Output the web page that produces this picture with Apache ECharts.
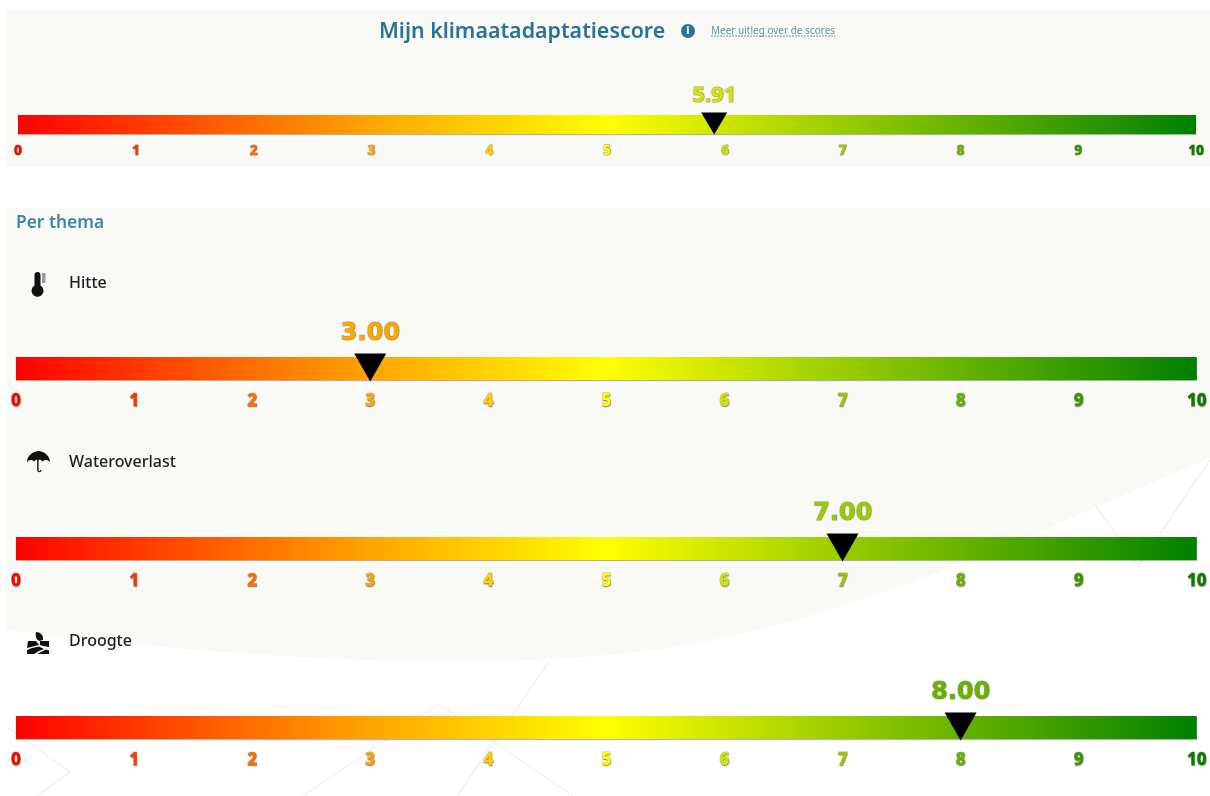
<!DOCTYPE html>
<html>
<head>
<meta charset="utf-8">
<title>Mijn klimaatadaptatiescore</title>
<script src="https://cdn.jsdelivr.net/npm/echarts@6/dist/echarts.min.js"></script>
<style>
  html, body { margin: 0; padding: 0; background: #ffffff; }
  #chart { width: 1210px; height: 796px; }
</style>
</head>
<body>
<div id="chart"></div>
<script>
// Scores on the 0-10 climate adaptation scale
const rowNames = ['Mijn klimaatadaptatiescore', 'Hitte', 'Wateroverlast', 'Droogte'];
const rowScores = [5.91, 3.0, 7.0, 8.0];
const tickValues = [0, 1, 2, 3, 4, 5, 6, 7, 8, 9, 10];

// Colour ramp shared by the bars, tick labels and score labels
const rampStops = [
  [0, [255, 0, 0]],
  [0.3, [255, 165, 0]],
  [0.5, [255, 255, 0]],
  [1, [0, 128, 0]]
];
function rampColor(score) {
  const t = score / 10;
  for (let i = 1; i < rampStops.length; i++) {
    if (t <= rampStops[i][0]) {
      const [t0, c0] = rampStops[i - 1];
      const [t1, c1] = rampStops[i];
      const f = (t - t0) / (t1 - t0);
      return 'rgb(' + c0.map((c, k) => Math.round(c + (c1[k] - c) * f)).join(',') + ')';
    }
  }
  return 'rgb(0,128,0)';
}

// Vertical placement of each row and its type sizes
const rowLayout = [
  { left: 18, right: 14, top: 115, height: 19, margin: 10, tick: 13.5, score: 22, scoreFont: 'Noto Sans', tri: [26, 22], triShift: -1, labelGap: 6 },
  { left: 16, right: 13, top: 357, height: 23, margin: 13, tick: 17, score: 24, scoreFont: 'DejaVu Sans', tri: [32, 28], triShift: -1, labelGap: 8 },
  { left: 16, right: 13, top: 537, height: 23, margin: 13, tick: 17, score: 24, scoreFont: 'DejaVu Sans', tri: [32, 28], triShift: -1, labelGap: 8 },
  { left: 16, right: 13, top: 716, height: 23, margin: 13, tick: 17, score: 24, scoreFont: 'DejaVu Sans', tri: [32, 28], triShift: -1, labelGap: 8 }
];

const grids = [], xAxes = [], yAxes = [], series = [];
rowNames.forEach((name, i) => {
  const row = rowLayout[i];
  grids.push({ left: row.left, right: row.right, top: row.top, height: row.height });
  xAxes.push({
    type: 'value', gridIndex: i, min: 0, max: 10, interval: 1,
    axisLine: { show: false }, axisTick: { show: false }, splitLine: { show: false },
    axisLabel: {
      margin: row.margin,
      fontFamily: 'Noto Sans', fontWeight: 800, fontSize: row.tick,
      color: v => rampColor(v),
      textBorderColor: 'rgba(90,60,0,0.4)', textBorderWidth: 0.8,
      textShadowColor: 'rgba(60,40,0,0.4)', textShadowBlur: 1, textShadowOffsetX: 0.5, textShadowOffsetY: 0.5,
      formatter: v => tickValues.includes(v) ? String(v) : ''
    }
  });
  yAxes.push({ type: 'category', gridIndex: i, data: [name], show: false });
  series.push({
    type: 'bar', name: name + ' schaal', xAxisIndex: i, yAxisIndex: i, barWidth: '100%',
    silent: true, data: [tickValues[tickValues.length - 1]],
    itemStyle: {
      shadowColor: 'rgba(70,70,70,0.4)', shadowBlur: 1, shadowOffsetY: 1,
      color: new echarts.graphic.LinearGradient(0, 0, 1, 0,
        rampStops.map(([offset, c]) => ({ offset, color: 'rgb(' + c.join(',') + ')' })))
    }
  });
  series.push({
    type: 'scatter', name: name, xAxisIndex: i, yAxisIndex: i, z: 5,
    symbol: 'path://M0 0 L2 0 L1 2 Z', symbolSize: row.tri, symbolOffset: [0, row.triShift],
    itemStyle: { color: '#000000', opacity: 1 },
    data: [[rowScores[i], name]],
    label: {
      show: true, position: 'top', distance: row.labelGap,
      formatter: p => p.value[0].toFixed(2),
      fontFamily: row.scoreFont, fontWeight: 'bold', fontSize: row.score,
      color: rampColor(rowScores[i]),
      textBorderColor: 'rgba(100,90,20,0.4)', textBorderWidth: 1,
      textShadowColor: 'rgba(60,50,0,0.4)', textShadowBlur: 1, textShadowOffsetX: 0.5, textShadowOffsetY: 0.5
    }
  });
});

// Page furniture: panels, faint background lines, headings and theme icons
const panelColor = '#f9faf5';
const lineColor = '#f0f0f0';
const headColor = '#2b7396';
const textFont = '"Noto Sans"';

function registerPath(name, pathData) {
  echarts.graphic.registerShape(name, echarts.graphic.extendPath(pathData, {}));
}
registerPath('themePanel', 'M7 208 H1210 V458 C1060 520 880 612 680 646 C520 672 280 664 7 630 Z');
registerPath('iconHitte', 'M3.5 3 a3 3 0 0 1 6 0 v10.5 a6 6 0 1 1 -6 0 z');
registerPath('iconHitteGauge', 'M11 1 h3.5 v10 h-3.5 z');
registerPath('iconWater', 'M11 0 C5 1 0 5 0 11 C3 8.5 5 8.5 7 10.5 C9 8.5 10 8.5 10.2 9 V19 C10.2 22 14.5 22 14.5 19 H13.2 C13.2 20.5 11.6 20.5 11.6 19 V9 C13 8.5 14 8.5 15.5 10.5 C18 8.5 20 8.5 23 11 C23 5 18 1 12 0 Z');
registerPath('iconDroogte', 'M9 0 C13 0 17 3 16 8 L12 9 C9 7 8 4 9 0 Z M1 9 H9 L12 13 L4 15 L0 16 Z M13 9 H22 V15 L16 14 L13 13 Z M0 18 L5 16 L12 14.5 L17 17 L12 19 L7 22 H0 Z M14 20 L19 17.5 L22 18.5 V22 H10 Z');

function faintLine(points) {
  return { type: 'polyline', z: -9, shape: { points }, style: { stroke: lineColor, lineWidth: 1.5, fill: null } };
}
function heading(x, y, text, size, color, weight) {
  return { type: 'text', x, y, z: 10, style: { text, fill: color, font: weight + ' ' + size + 'px ' + textFont, textVerticalAlign: 'middle' } };
}
function icon(type, x, y, fill) {
  return { type, x, y, z: 10, style: { fill: fill || '#111111' } };
}

const graphicElements = [
  { type: 'rect', z: -10, shape: { x: 7, y: 10, width: 1203, height: 157 }, style: { fill: panelColor } },
  { type: 'themePanel', z: -10, style: { fill: panelColor } },
  faintLine([[1095, 505], [1138, 566], [1210, 460]]),
  faintLine([[550, 660], [457, 796]]),
  faintLine([[303, 796], [423, 715], [438, 704], [573, 796]]),
  faintLine([[7, 727], [70, 772], [37, 796]]),
  heading(379, 32, rowNames[0], 21.4, headColor, '600'),
  { type: 'circle', z: 10, shape: { cx: 688, cy: 31, r: 7 }, style: { fill: headColor } },
  { type: 'text', z: 11, x: 688, y: 31, style: { text: 'i', fill: '#ffffff', font: 'bold 11px "DejaVu Sans"', textAlign: 'center', textVerticalAlign: 'middle' } },
  heading(711, 31, 'Meer uitleg over de scores', 10, '#5d93ab', '400'),
  { type: 'line', z: 10, shape: { x1: 711, y1: 36, x2: 835, y2: 36 }, style: { stroke: '#5d93ab', lineWidth: 1, lineDash: [2, 1] } },
  heading(16, 223, 'Per thema', 17.4, '#3f85a5', '600'),
  heading(69, 283, rowNames[1], 16, '#1c1c22', '500'),
  heading(69, 462, rowNames[2], 16, '#1c1c22', '500'),
  heading(69, 641, rowNames[3], 16, '#1c1c22', '500'),
  icon('iconHitte', 31, 272),
  icon('iconHitteGauge', 31, 272, '#9a9a9a'),
  icon('iconWater', 27, 451),
  icon('iconDroogte', 27, 632)
];

const chart = echarts.init(document.getElementById('chart'), null, { renderer: 'canvas' });
chart.setOption({
  animation: false,
  backgroundColor: '#ffffff',
  tooltip: { show: false },
  grid: grids,
  xAxis: xAxes,
  yAxis: yAxes,
  series,
  graphic: { elements: graphicElements }
});
</script>
</body>
</html>
